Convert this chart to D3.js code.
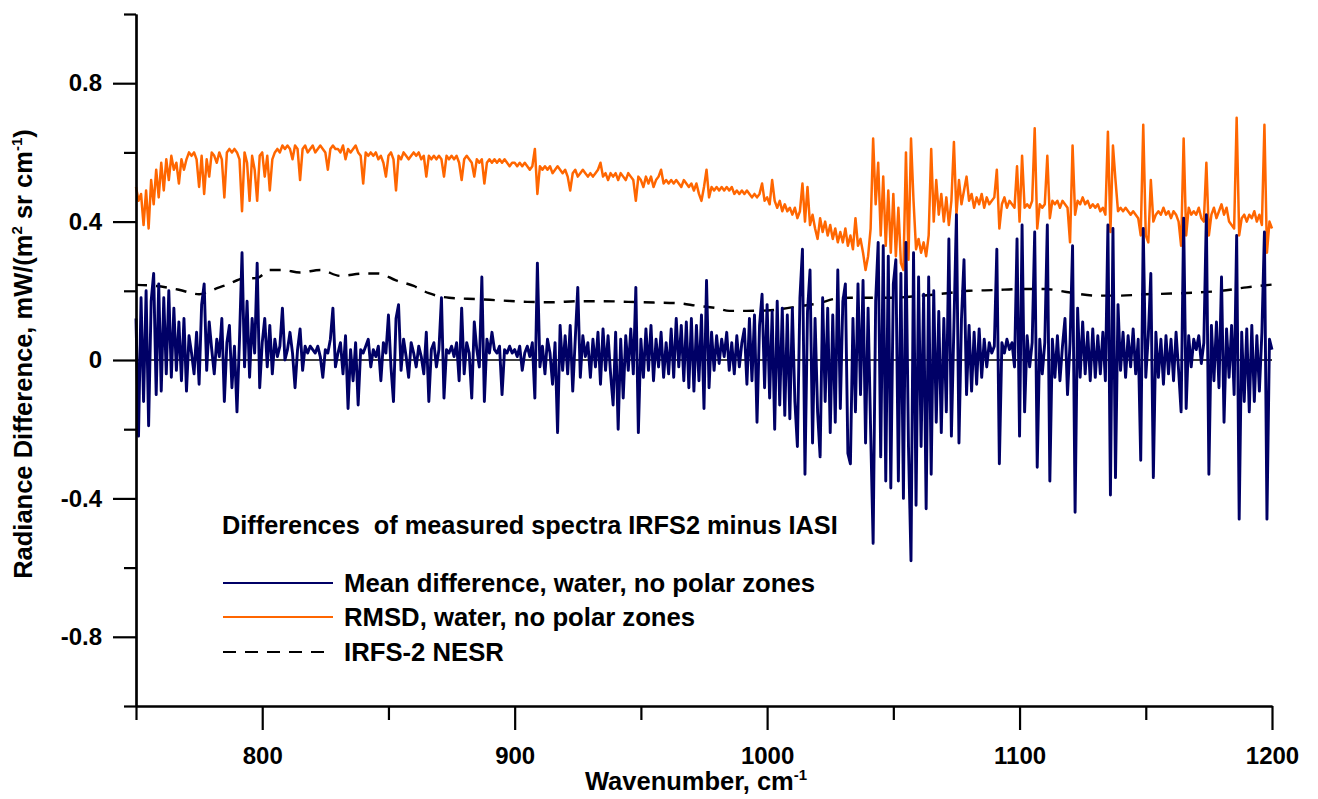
<!DOCTYPE html>
<html>
<head>
<meta charset="utf-8">
<script src="https://cdn.jsdelivr.net/npm/d3@7"></script>
<style>
  body { margin: 0; background: #fff; }
  text { font-family: "Liberation Sans", Arial, sans-serif; font-weight: bold; fill: #000; }
</style>
</head>
<body>
<svg id="chart" width="1318" height="799"></svg>
<script>
// wavenumber grid, 1 cm-1 sampling
const wavenumber = d3.range(750, 1200.5, 1);

// mean difference IRFS2 - IASI (one row = 10 cm-1)
const meanDiff = [
  0.12, -0.22, 0.18, -0.12, 0.20, -0.19, 0.17, 0.25, -0.10, 0.22,   // 750
  -0.09, 0.18, -0.04, 0.20, -0.05, 0.15, -0.03, 0.11, -0.06, 0.12,  // 760
  -0.09, 0.07, 0.02, -0.04, 0.08, -0.07, 0.16, 0.22, -0.03, 0.11,   // 770
  0.03, -0.04, 0.06, 0.01, 0.12, -0.12, 0.05, 0.10, -0.08, 0.04,    // 780
  -0.15, 0.06, 0.31, -0.02, 0.17, -0.05, 0.12, 0.02, 0.28, -0.08,   // 790
  0.05, 0.12, -0.02, 0.10, -0.04, 0.06, 0.01, 0.04, 0.15, 0.00,     // 800
  0.03, 0.08, 0.02, -0.08, 0.03, 0.09, -0.03, 0.04, 0.02, 0.04,     // 810
  0.03, 0.02, 0.04, 0.01, -0.05, 0.03, 0.02, 0.06, 0.15, -0.02,     // 820
  0.02, 0.05, -0.04, 0.07, -0.14, 0.03, -0.06, 0.05, -0.13, 0.03,   // 830
  0.02, 0.04, 0.06, -0.02, 0.03, 0.01, 0.04, -0.06, 0.05, 0.02,     // 840
  0.13, -0.02, -0.12, 0.12, 0.16, -0.03, 0.06, 0.01, -0.05, 0.05,   // 850
  0.02, -0.02, 0.04, 0.01, -0.04, 0.08, -0.12, 0.03, 0.05, -0.02,   // 860
  0.03, 0.18, -0.11, 0.03, 0.02, 0.04, 0.01, 0.05, -0.06, 0.15,     // 870
  -0.04, 0.05, 0.02, -0.11, 0.11, 0.03, -0.02, 0.24, -0.12, 0.06,   // 880
  0.02, 0.08, 0.03, 0.02, 0.04, -0.10, 0.03, 0.02, 0.04, 0.02,      // 890
  0.03, 0.01, 0.04, -0.03, 0.02, 0.04, 0.01, 0.05, -0.11, 0.28,     // 900
  -0.02, 0.04, -0.04, 0.06, 0.02, -0.07, 0.05, -0.21, 0.10, -0.03,  // 910
  0.07, -0.04, 0.10, -0.09, 0.06, 0.21, -0.05, 0.07, 0.01, 0.05,    // 920
  -0.05, 0.06, -0.02, 0.08, -0.07, 0.09, -0.03, 0.07, -0.04, -0.13, // 930
  0.08, -0.20, 0.06, -0.11, 0.07, -0.03, 0.09, -0.04, 0.21, -0.21,  // 940
  0.06, -0.05, 0.09, -0.03, 0.10, -0.06, 0.06, -0.02, 0.08, -0.05,  // 950
  0.05, -0.04, 0.09, -0.05, 0.12, -0.02, 0.10, -0.06, 0.11, -0.08,  // 960
  0.12, -0.09, 0.10, -0.06, 0.13, -0.14, 0.23, -0.08, 0.08, -0.03,  // 970
  0.07, -0.01, 0.06, 0.01, 0.08, -0.03, 0.05, -0.04, 0.07, -0.02,   // 980
  0.05, 0.09, -0.07, 0.12, -0.06, 0.13, -0.18, 0.10, 0.19, -0.08,   // 990
  0.16, -0.11, 0.14, -0.20, 0.17, -0.13, 0.15, -0.16, 0.13, -0.17,  // 1000
  0.15, -0.12, -0.25, 0.18, 0.32, -0.33, 0.14, 0.26, -0.24, 0.12,   // 1010
  -0.15, -0.28, 0.18, -0.12, 0.15, -0.21, 0.13, -0.18, 0.26, -0.14, // 1020
  0.17, 0.22, -0.27, -0.30, 0.12, -0.15, 0.22, -0.10, 0.23, -0.24,  // 1030
  0.15, -0.20, -0.53, 0.17, 0.34, -0.28, 0.33, -0.35, 0.30, -0.37,  // 1040
  0.22, 0.29, -0.35, 0.25, -0.40, 0.34, -0.25, -0.58, 0.31, -0.42,  // 1050
  0.24, -0.25, 0.19, -0.43, 0.24, -0.33, 0.20, -0.18, 0.14, -0.21,  // 1060
  0.12, -0.15, 0.35, -0.22, 0.10, 0.42, -0.24, 0.12, 0.29, -0.10,   // 1070
  0.10, -0.09, 0.08, -0.07, 0.09, -0.05, 0.06, -0.02, 0.05, 0.02,   // 1080
  0.04, 0.32, -0.30, 0.05, 0.02, 0.06, 0.03, 0.05, -0.02, 0.35,     // 1090
  -0.22, 0.39, -0.15, 0.07, -0.02, 0.05, 0.37, -0.31, 0.06, -0.04,  // 1100
  0.05, 0.39, -0.35, 0.06, -0.05, 0.07, -0.06, 0.04, 0.12, -0.10,   // 1110
  0.05, 0.33, -0.44, 0.15, -0.05, 0.11, -0.04, 0.08, -0.06, 0.09,   // 1120
  -0.05, 0.07, -0.04, 0.08, -0.06, 0.39, -0.39, 0.38, -0.34, 0.16,  // 1130
  -0.03, 0.08, -0.05, 0.07, -0.02, 0.09, -0.04, 0.06, -0.29, 0.38,  // 1140
  -0.05, 0.07, 0.25, -0.34, 0.08, -0.05, 0.06, -0.07, 0.07, -0.04,  // 1150
  0.06, -0.06, 0.08, -0.03, -0.15, 0.41, -0.14, 0.07, -0.02, 0.06,  // 1160
  0.03, 0.07, -0.01, 0.05, 0.42, -0.33, 0.10, -0.06, 0.11, -0.08,   // 1170
  0.24, -0.18, 0.09, -0.05, 0.10, -0.10, 0.36, -0.46, 0.08, -0.12,  // 1180
  0.09, -0.15, 0.10, -0.12, 0.07, -0.09, 0.08, 0.37, -0.46, 0.06, 0.03 // 1190-1200
];

// RMSD IRFS2 - IASI
const rmsd = [
  0.50, 0.46, 0.48, 0.39, 0.49, 0.38, 0.52, 0.45, 0.55, 0.47,  // 750
  0.57, 0.49, 0.58, 0.52, 0.59, 0.55, 0.57, 0.51, 0.58, 0.55,  // 760
  0.58, 0.60, 0.59, 0.60, 0.58, 0.50, 0.59, 0.48, 0.58, 0.53,  // 770
  0.60, 0.59, 0.57, 0.60, 0.58, 0.47, 0.60, 0.61, 0.60, 0.61,  // 780
  0.60, 0.58, 0.43, 0.60, 0.57, 0.46, 0.59, 0.55, 0.46, 0.59,  // 790
  0.60, 0.53, 0.59, 0.49, 0.58, 0.60, 0.61, 0.60, 0.62, 0.61,  // 800
  0.62, 0.61, 0.58, 0.62, 0.61, 0.52, 0.61, 0.62, 0.60, 0.61,  // 810
  0.62, 0.60, 0.61, 0.62, 0.61, 0.60, 0.55, 0.61, 0.62, 0.61,  // 820
  0.61, 0.60, 0.62, 0.58, 0.61, 0.60, 0.61, 0.62, 0.60, 0.59,  // 830
  0.51, 0.60, 0.59, 0.60, 0.59, 0.60, 0.58, 0.59, 0.57, 0.53,  // 840
  0.59, 0.60, 0.58, 0.49, 0.59, 0.58, 0.60, 0.59, 0.58, 0.59,  // 850
  0.60, 0.59, 0.60, 0.58, 0.59, 0.53, 0.59, 0.58, 0.59, 0.58,  // 860
  0.59, 0.58, 0.53, 0.59, 0.58, 0.59, 0.58, 0.59, 0.57, 0.52,  // 870
  0.58, 0.59, 0.58, 0.57, 0.53, 0.58, 0.57, 0.58, 0.51, 0.57,  // 880
  0.58, 0.57, 0.58, 0.57, 0.58, 0.57, 0.58, 0.57, 0.56, 0.57,  // 890
  0.57, 0.56, 0.57, 0.56, 0.57, 0.56, 0.55, 0.56, 0.61, 0.48,  // 900
  0.56, 0.55, 0.56, 0.55, 0.56, 0.54, 0.55, 0.56, 0.55, 0.54,  // 910
  0.55, 0.53, 0.49, 0.54, 0.55, 0.53, 0.54, 0.55, 0.54, 0.53,  // 920
  0.54, 0.53, 0.54, 0.55, 0.57, 0.53, 0.54, 0.52, 0.54, 0.53,  // 930
  0.54, 0.52, 0.54, 0.53, 0.52, 0.54, 0.53, 0.52, 0.46, 0.53,  // 940
  0.52, 0.50, 0.53, 0.51, 0.53, 0.50, 0.52, 0.53, 0.55, 0.51,  // 950
  0.52, 0.51, 0.52, 0.51, 0.52, 0.51, 0.50, 0.52, 0.51, 0.50,  // 960
  0.51, 0.49, 0.51, 0.48, 0.46, 0.50, 0.55, 0.47, 0.50, 0.49,  // 970
  0.50, 0.49, 0.50, 0.49, 0.50, 0.49, 0.50, 0.48, 0.49, 0.48,  // 980
  0.49, 0.48, 0.49, 0.48, 0.47, 0.48, 0.47, 0.48, 0.51, 0.46,  // 990
  0.47, 0.45, 0.52, 0.46, 0.44, 0.46, 0.43, 0.45, 0.43, 0.44,  // 1000
  0.42, 0.44, 0.41, 0.43, 0.51, 0.40, 0.50, 0.39, 0.42, 0.38,  // 1010
  0.35, 0.41, 0.37, 0.40, 0.36, 0.39, 0.35, 0.38, 0.34, 0.37,  // 1020
  0.34, 0.38, 0.33, 0.36, 0.32, 0.41, 0.33, 0.35, 0.31, 0.26,  // 1030
  0.30, 0.38, 0.64, 0.45, 0.57, 0.36, 0.53, 0.33, 0.49, 0.31,  // 1040
  0.48, 0.30, 0.44, 0.28, 0.26, 0.60, 0.29, 0.64, 0.46, 0.32,  // 1050
  0.35, 0.31, 0.34, 0.30, 0.36, 0.61, 0.40, 0.52, 0.42, 0.48,  // 1060
  0.40, 0.47, 0.39, 0.46, 0.63, 0.42, 0.52, 0.45, 0.49, 0.53,  // 1070
  0.46, 0.48, 0.44, 0.47, 0.45, 0.48, 0.44, 0.47, 0.45, 0.46,  // 1080
  0.47, 0.55, 0.38, 0.45, 0.47, 0.44, 0.46, 0.45, 0.44, 0.56,  // 1090
  0.40, 0.59, 0.44, 0.45, 0.44, 0.46, 0.67, 0.38, 0.45, 0.44,  // 1100
  0.45, 0.59, 0.41, 0.46, 0.45, 0.46, 0.44, 0.46, 0.45, 0.44,  // 1110
  0.34, 0.62, 0.42, 0.46, 0.45, 0.47, 0.45, 0.46, 0.44, 0.45,  // 1120
  0.44, 0.45, 0.43, 0.44, 0.42, 0.66, 0.37, 0.62, 0.52, 0.43,  // 1130
  0.44, 0.43, 0.44, 0.43, 0.42, 0.43, 0.42, 0.41, 0.36, 0.68,  // 1140
  0.36, 0.34, 0.52, 0.40, 0.42, 0.43, 0.42, 0.44, 0.42, 0.43,  // 1150
  0.41, 0.43, 0.42, 0.40, 0.33, 0.64, 0.36, 0.44, 0.42, 0.43,  // 1160
  0.42, 0.44, 0.41, 0.40, 0.57, 0.36, 0.42, 0.44, 0.41, 0.43,  // 1170
  0.45, 0.42, 0.44, 0.40, 0.39, 0.38, 0.70, 0.36, 0.41, 0.42,  // 1180
  0.40, 0.42, 0.41, 0.43, 0.40, 0.42, 0.39, 0.68, 0.31, 0.40, 0.38 // 1190-1200
];

// IRFS-2 NESR (smooth curve)
const nesrWn = [750, 758, 767, 775, 783, 787, 792, 798, 803, 808, 815, 823, 831, 840, 846, 853, 860, 866, 874, 885,
  895, 905, 915, 925, 935, 945, 955, 965, 972, 980, 985, 992, 1000, 1008, 1014, 1020, 1027, 1033, 1040, 1050,
  1060, 1070, 1080, 1090, 1100, 1110, 1120, 1130, 1140, 1150, 1160, 1170, 1180, 1190, 1200];
const nesr = [0.217, 0.214, 0.203, 0.19, 0.21, 0.22, 0.235, 0.237, 0.26, 0.26, 0.253, 0.26, 0.243, 0.25, 0.25, 0.23, 0.214, 0.193, 0.18, 0.176,
  0.172, 0.168, 0.167, 0.17, 0.17, 0.168, 0.166, 0.164, 0.157, 0.15, 0.142, 0.142, 0.143, 0.15, 0.157, 0.163, 0.177, 0.18, 0.18, 0.18,
  0.185, 0.192, 0.2, 0.202, 0.205, 0.205, 0.195, 0.186, 0.186, 0.19, 0.192, 0.195, 0.2, 0.21, 0.218];

// ticks
const xMajor = [800, 900, 1000, 1100, 1200];
const xMinor = [750, 850, 950, 1050, 1150];
const yMajor = [-0.8, -0.4, 0, 0.4, 0.8];
const yMinor = [-1, -0.6, -0.2, 0.2, 0.6, 1];

const legendItems = [
  { label: "Mean difference, water, no polar zones", color: "#000066", dash: null },
  { label: "RMSD, water, no polar zones", color: "#ff6600", dash: null },
  { label: "IRFS-2 NESR", color: "#000", dash: "13,9" }
];

const svg = d3.select("#chart");

const x = d3.scaleLinear().domain([750, 1200]).range([136, 1272]);
const y = d3.scaleLinear().domain([-1, 1]).range([706, 14]);

// zero line
svg.append("line")
  .attr("x1", x(750)).attr("x2", x(1200))
  .attr("y1", y(0)).attr("y2", y(0))
  .attr("stroke", "#000").attr("stroke-width", 1.3);

const line = d3.line()
  .x(function(d) { return x(d[0]); })
  .y(function(d) { return y(d[1]); });

// NESR dashed
svg.append("path")
  .datum(nesrWn.map(function(w, i) { return [w, nesr[i]]; }))
  .attr("d", line.curve(d3.curveMonotoneX))
  .attr("fill", "none")
  .attr("stroke", "#000")
  .attr("stroke-width", 2.4)
  .attr("stroke-dasharray", "11,9");

line.curve(d3.curveLinear);

// RMSD
svg.append("path")
  .datum(wavenumber.map(function(w, i) { return [w, rmsd[i]]; }))
  .attr("d", line)
  .attr("fill", "none")
  .attr("stroke", "#ff6600")
  .attr("stroke-width", 2.5)
  .attr("stroke-linejoin", "round");

// mean difference
svg.append("path")
  .datum(wavenumber.map(function(w, i) { return [w, meanDiff[i]]; }))
  .attr("d", line)
  .attr("fill", "none")
  .attr("stroke", "#000066")
  .attr("stroke-width", 2.9)
  .attr("stroke-linejoin", "round");

// axes
function styleAxis(g) {
  g.attr("font-family", null).attr("font-size", null);
  g.selectAll(".domain").attr("stroke-width", 2.2);
  g.selectAll(".tick line").attr("stroke-width", 2.2);
  g.selectAll(".tick text").style("font-size", "24px");
}

svg.append("g")
  .attr("transform", "translate(0,706)")
  .call(d3.axisBottom(x).tickValues(xMinor).tickSize(14).tickSizeOuter(0).tickFormat(""))
  .call(styleAxis);
svg.append("g")
  .attr("transform", "translate(0,706)")
  .call(d3.axisBottom(x).tickValues(xMajor).tickSize(24).tickPadding(17).tickSizeOuter(0).tickFormat(d3.format("d")))
  .call(styleAxis);

svg.append("g")
  .attr("transform", "translate(136,0)")
  .call(d3.axisLeft(y).tickValues(yMinor).tickSize(12).tickSizeOuter(0).tickFormat(""))
  .call(styleAxis);
svg.append("g")
  .attr("transform", "translate(136,0)")
  .call(d3.axisLeft(y).tickValues(yMajor).tickSize(23).tickPadding(11).tickSizeOuter(0)
    .tickFormat(function(d) { return String(d); }))
  .call(styleAxis);

// axis titles
const xt = svg.append("text")
  .attr("x", 585).attr("y", 790)
  .style("font-size", "25.5px");
xt.append("tspan").text("Wavenumber, cm");
xt.append("tspan").attr("dy", -10).style("font-size", "15px").text("-1");

const yt = svg.append("text")
  .attr("transform", "translate(32,354) rotate(-90)")
  .attr("text-anchor", "middle")
  .style("font-size", "25.5px");
yt.append("tspan").text("Radiance Difference, mW/(m");
yt.append("tspan").attr("dy", -10).style("font-size", "15px").text("2");
yt.append("tspan").attr("dy", 10).text(" sr cm");
yt.append("tspan").attr("dy", -10).style("font-size", "15px").text("-1");
yt.append("tspan").attr("dy", 10).text(")");

// legend
svg.append("text")
  .attr("x", 222).attr("y", 534)
  .attr("xml:space", "preserve")
  .style("white-space", "pre")
  .style("font-size", "25.3px")
  .text("Differences  of measured spectra IRFS2 minus IASI");

const legendRows = [583, 617, 652];
const lg = svg.append("g").selectAll("g")
  .data(legendItems)
  .enter()
  .append("g")
  .attr("transform", function(d, i) { return "translate(0," + legendRows[i] + ")"; });

lg.append("line")
  .attr("x1", 223).attr("x2", 333)
  .attr("stroke", function(d) { return d.color; })
  .attr("stroke-width", 2.2)
  .attr("stroke-dasharray", function(d) { return d.dash; });

lg.append("text")
  .attr("x", 344).attr("y", 9)
  .style("font-size", "25.7px")
  .text(function(d) { return d.label; });
</script>
</body>
</html>
